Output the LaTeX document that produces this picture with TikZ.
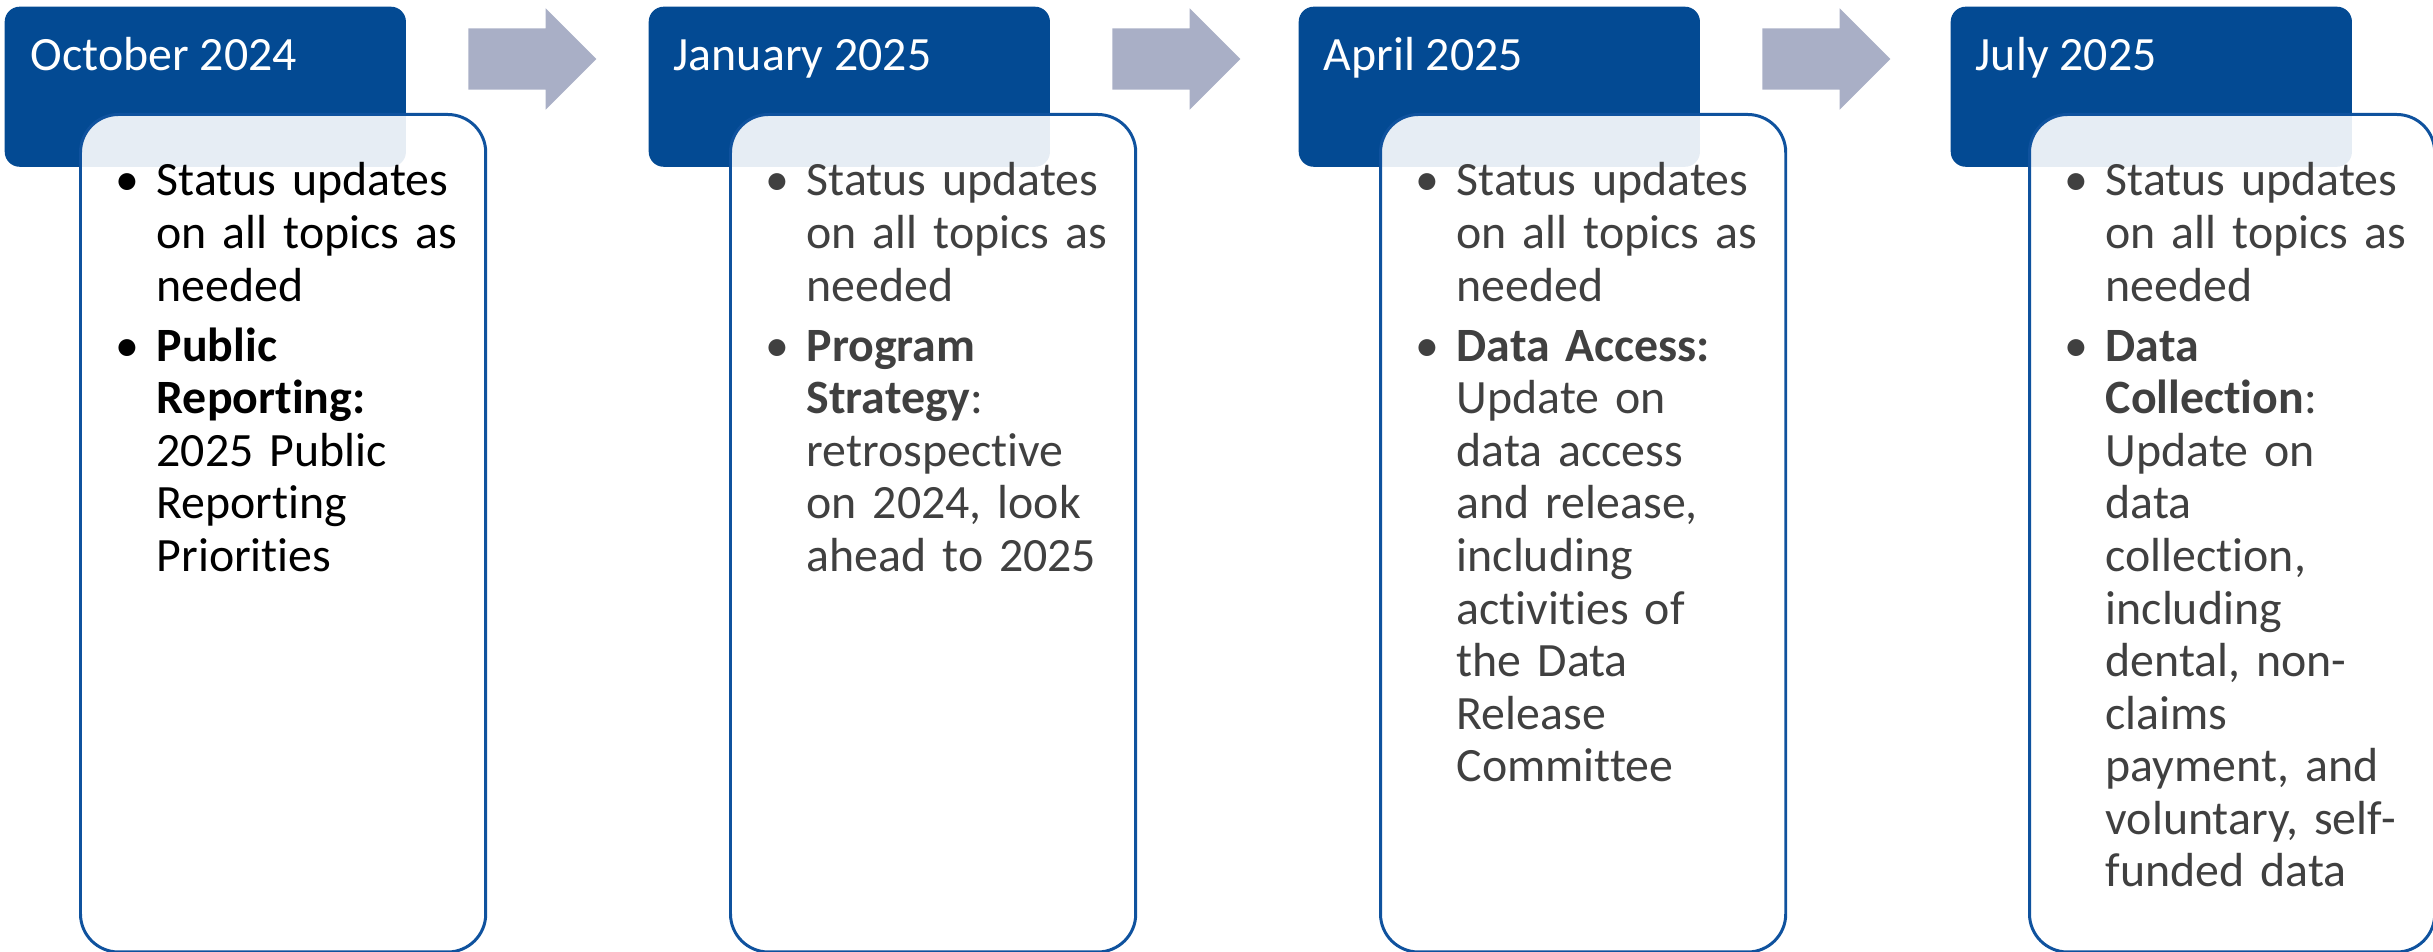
\documentclass[tikz,border=0pt]{standalone}
\usepackage{fontspec}
\setmainfont{Carlito}[Ligatures=NoCommon]
\usetikzlibrary{calc}
\usetikzlibrary{positioning}
\usetikzlibrary{shapes.arrows}

\definecolor{hdblue}{HTML}{034A93}
\definecolor{edgeblue}{HTML}{0F529E}
\definecolor{arrowgrey}{HTML}{A9AFC6}
\definecolor{txtgrey}{HTML}{404040}

\newcommand{\cardfont}{\fontsize{13.6pt}{14.94pt}\selectfont\setlength{\parskip}{2.2pt}}
\newcommand{\bul}{\par\noindent\strut\llap{\textbullet\hspace{0.175cm}}}

\begin{document}
\begin{tikzpicture}[x=0.01cm, y=-0.01cm,
    header/.style={rectangle, rounded corners=0.15cm, fill=hdblue, minimum width=4.01cm, minimum height=1.6cm, anchor=north west, inner sep=0},
    title/.style={anchor=base west, text=white, font=\cardfont, inner sep=0},
    card/.style={rectangle, rounded corners=0.38cm, draw=edgeblue, line width=0.85pt, fill=white, fill opacity=0.9, minimum width=4.05cm, minimum height=8.37cm, anchor=north west, inner sep=0},
    items/.style={anchor=north west, text width=3.5cm, align=left, font=\cardfont, inner sep=0},
    blockarrow/.style={single arrow, fill=arrowgrey, minimum height=1.28cm, minimum width=1cm, single arrow head extend=0.2cm, inner sep=0, anchor=west}]
    \useasboundingbox (0,0) rectangle (2433,952);
    % headers
    \node[header] (h1) at (4,6) {};
    \node[header] (h2) at (648,6) {};
    \node[header] (h3) at (1298,6) {};
    \node[header] (h4) at (1950,6) {};
    \node[title] (t1) at ($(h1.north west)+(26,65)$) {October 2024};
    \node[title] (t2) at ($(h2.north west)+(25,65)$) {January 2025};
    \node[title] (t3) at ($(h3.north west)+(25,65)$) {April 2025};
    \node[title] (t4) at ($(h4.north west)+(25,65)$) {July 2025};
    % arrows between the headers
    \node[blockarrow] (a1) at ($(h1.north east)+(61,53)$) {\rule{0pt}{0.6cm}};
    \node[blockarrow] (a2) at ($(h2.north east)+(61,53)$) {\rule{0pt}{0.6cm}};
    \node[blockarrow] (a3) at ($(h3.north east)+(61,53)$) {\rule{0pt}{0.6cm}};
    % cards
    \node[card] (c1) at (79,113) {};
    \node[card] (c2) at (729,113) {};
    \node[card] (c3) at (1379,113) {};
    \node[card] (c4) at (2028,113) {};
    % card texts
    \node[items, text=black] (i1) at ($(c1.north west)+(77,22)$) {\bul Status updates\\on all topics as\\needed
        \bul\textbf{Public}\\\textbf{Reporting:}\\2025 Public\\Reporting\\Priorities};
    \node[items, text=txtgrey] (i2) at ($(c2.north west)+(77,22)$) {\bul Status updates\\on all topics as\\needed
        \bul\textbf{Program}\\\textbf{Strategy}:\\retrospective\\on 2024, look\\ahead to 2025};
    \node[items, text=txtgrey] (i3) at ($(c3.north west)+(77,22)$) {\bul Status updates\\on all topics as\\needed
        \bul\textbf{Data Access:}\\Update on\\data access\\and release,\\including\\activities of\\the Data\\Release\\Committee};
    \node[items, text=txtgrey] (i4) at ($(c4.north west)+(77,22)$) {\bul Status updates\\on all topics as\\needed
        \bul\textbf{Data}\\\textbf{Collection}:\\Update on\\data\\collection,\\including\\dental, non-\\claims\\payment, and\\voluntary, self-\\funded data};
\end{tikzpicture}
\end{document}
